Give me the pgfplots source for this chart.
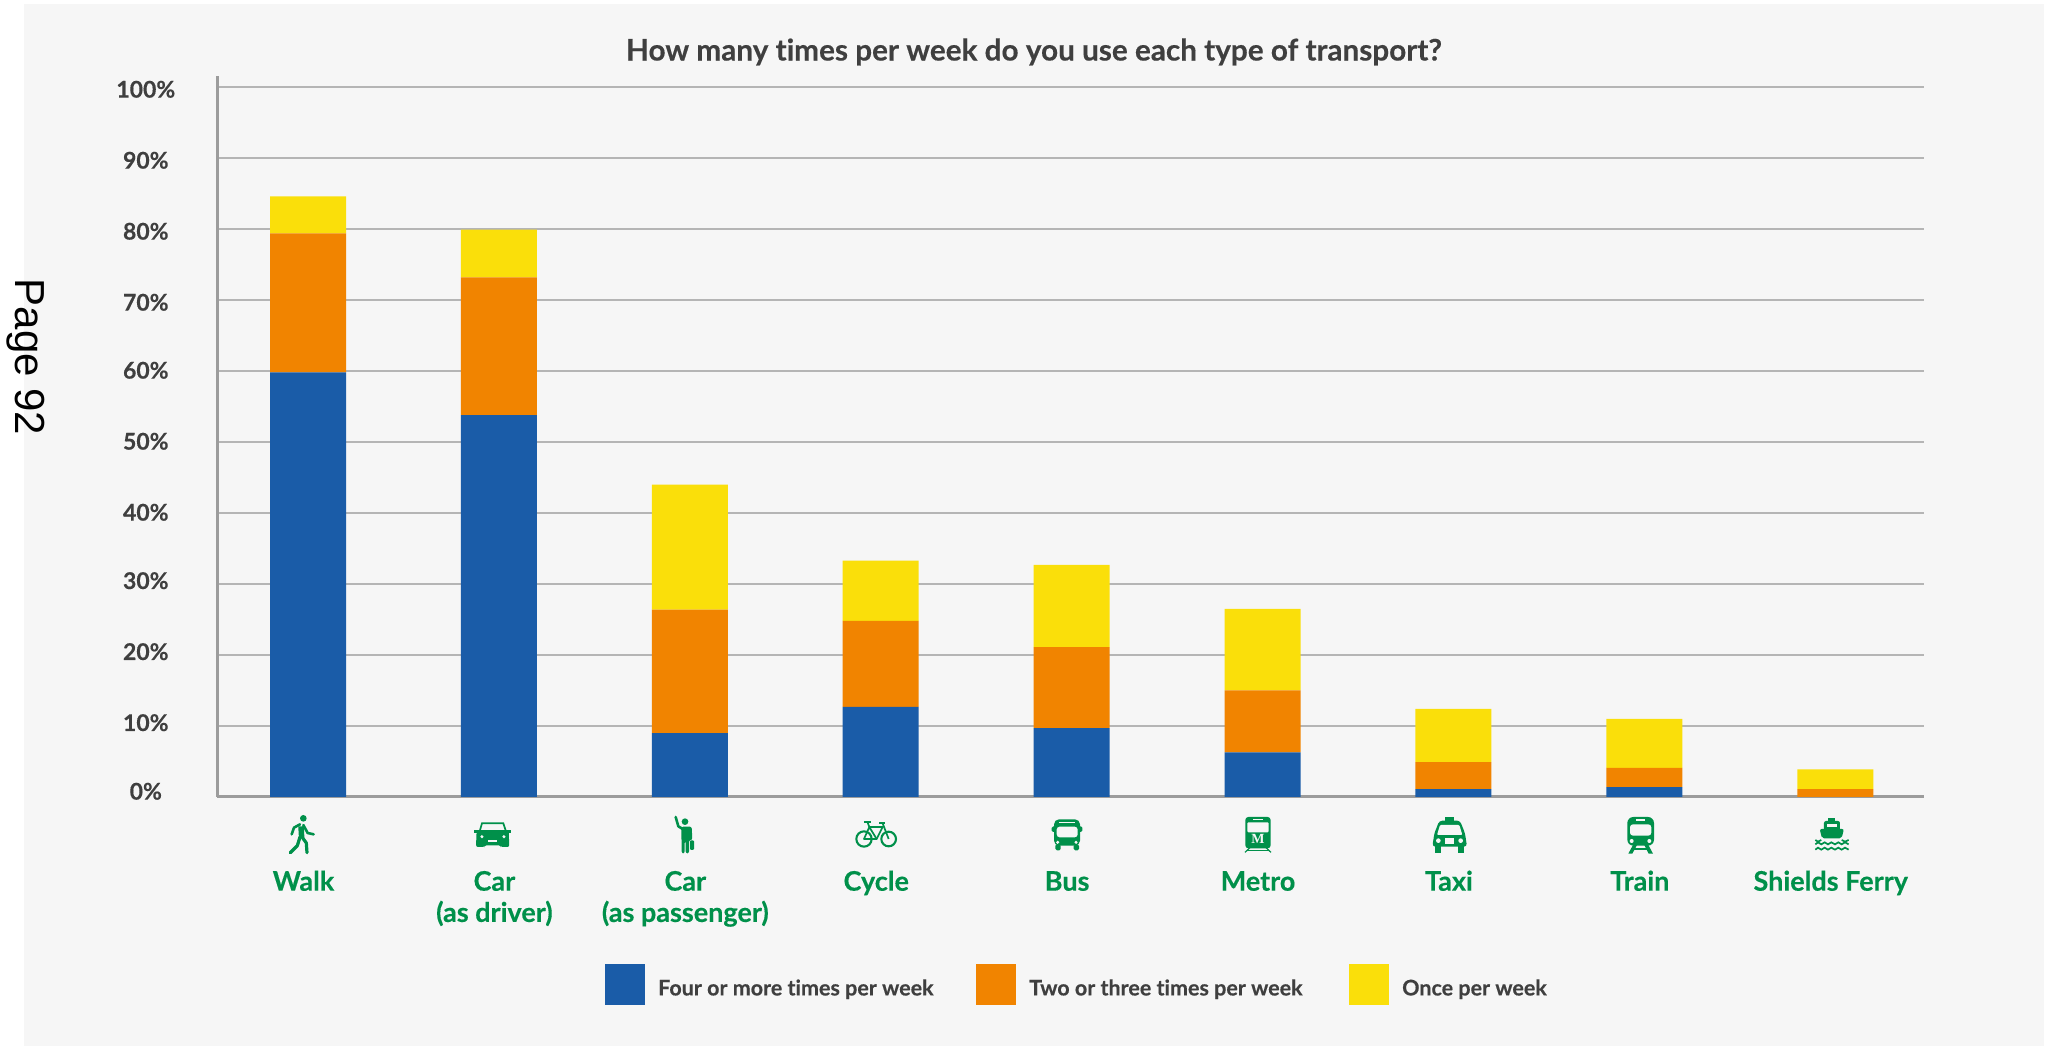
\documentclass[border=0pt]{standalone}
\usepackage{fontspec}
\setmainfont{Lato}[Ligatures=CommonOff,BoldFeatures={FakeBold=0.35}]
\newfontfamily\pagefont{Liberation Sans}
\newfontfamily\mfont{Liberation Serif}
\usepackage{pgfplots}
\pgfplotsset{compat=1.18}
\definecolor{panel}{HTML}{F6F6F6}
\definecolor{cblue}{HTML}{1A5CA8}
\definecolor{corange}{HTML}{F18400}
\definecolor{cyellow}{HTML}{FADF0A}
\definecolor{cgreen}{HTML}{00904A}
\definecolor{ctext}{HTML}{3F3F3F}
\definecolor{cgrid}{HTML}{B5B5B5}
\definecolor{caxis}{HTML}{9C9C9C}
\newcommand{\yl}[2]{\raisebox{#1}[23pt][0pt]{#2}}
\begin{document}
\begin{tikzpicture}[x=1pt,y=1pt]
\path[use as bounding box] (0,0) rectangle (2049,1046);
\fill[panel] (24,0) rectangle (2044,1042);
\begin{axis}[
  at={(217pt,249pt)}, anchor=south west,
  scale only axis, width=1706.5pt, height=721pt,
  xmin=-0.4767, xmax=8.4625, ymin=0, ymax=101.55,
  ybar stacked, bar width=76pt,
  axis lines=left, axis line style={-, draw=caxis, line width=3pt},
  major tick length=0pt,
  ymajorgrids, grid style={draw=cgrid, line width=1.6pt},
  ytick={0,10,...,100},
  yticklabels={\yl{5pt}{0\%},\yl{2.6pt}{10\%},\yl{2.6pt}{20\%},\yl{2.6pt}{30\%},\yl{0pt}{40\%},\yl{0pt}{50\%},\yl{0pt}{60\%},\yl{-3pt}{70\%},\yl{-3pt}{80\%},\yl{-3pt}{90\%},\yl{-3pt}{100\%}},
  yticklabel style={font=\fontsize{23}{26}\selectfont\bfseries, text=ctext, text width=70pt, align=center, anchor=east, inner sep=0pt},
  ytick pos=left, xtick pos=bottom,
  ylabel={}, 
  typeset ticklabels with strut=false,
  yticklabel shift=36pt,
  xtick={0,...,8},
  xticklabels={Walk,{Car\\(as driver)},{Car\\(as passenger)},Cycle,Bus,Metro,Taxi,Train,Shields Ferry},
  xticklabel style={font=\fontsize{27}{30}\selectfont\bfseries, text=cgreen, align=center, anchor=north, inner sep=0pt, xshift=-4.5pt},
  xticklabel shift=72.5pt,
  title={\fontsize{29.7}{32}\selectfont\bfseries\textcolor{ctext}{How many times per week do you use each type of transport?}},
  title style={at={(0.4787,1.025)}, anchor=center, inner sep=0pt},
  legend columns=3,
  legend style={at={(0.22736,-0.2316)}, anchor=north west, draw=none, fill=none, inner sep=0pt, font=\fontsize{21.5}{24}\selectfont\bfseries, text=ctext, nodes={inner sep=0pt}, /tikz/every even column/.append style={column sep=13pt}},
  legend image code/.code={\fill[#1] (0,-17pt) rectangle (40pt,24pt);},
]
\addplot[fill=cblue, draw=none] coordinates {(0,59.8)(1,53.8)(2,9.0)(3,12.7)(4,9.7)(5,6.3)(6,1.1)(7,1.4)(8,0)};
\addlegendentry{\makebox[318pt][l]{\hspace{13pt}Four or more times per week}}
\addplot[fill=corange, draw=none] coordinates {(0,19.6)(1,19.4)(2,17.4)(3,12.1)(4,11.4)(5,8.7)(6,3.8)(7,2.7)(8,1.1)};
\addlegendentry{\makebox[320pt][l]{\hspace{13pt}Two or three times per week}}
\addplot[fill=cyellow, draw=none] coordinates {(0,5.2)(1,6.7)(2,17.6)(3,8.5)(4,11.6)(5,11.5)(6,7.5)(7,6.9)(8,2.8)};
\addlegendentry{\makebox[180pt][l]{\hspace{13pt}Once per week}}
\end{axis}
\node[rotate=-90, font=\fontsize{42}{46}\selectfont\pagefont, text=black, inner sep=0pt] at (26,689) {Page 92};
% ---- pictograms (zoom-pixel coordinates) ----
\begin{scope}[shift={(270pt,241pt)},x=0.3333pt,y=-0.3333pt,cgreen]
 % walk
 \fill (100,40) circle[radius=10];
 \draw[line width=5.5pt,line join=round] (93,64)--(95,98);
 \draw[line width=2.6pt,line cap=round,line join=round] (90,58)--(72,68)--(65,88);
 \draw[line width=2.6pt,line cap=round,line join=round] (100,60)--(113,84)--(131,88);
 \draw[line width=3.2pt,line cap=round,line join=round] (90,96)--(82,122)--(61,143);
 \draw[line width=3.2pt,line cap=round,line join=round] (96,96)--(109,114)--(111,143);
 % car
 \fill[rounded corners=2pt] (620,76)--(716,76)--(718,126)--(692,126)--(692,121)--(644,121)--(644,126)--(618,126)--cycle;
 \fill (612,76) rectangle (724,83);
 \draw[line width=1.7pt] (630,76)--(636,55)--(700,55)--(707,76);
 \fill[panel] (636,95) circle[radius=5];
 \fill[panel] (702,95) circle[radius=5];
 \fill[panel] (655,105) rectangle (682,110);
\end{scope}
\begin{scope}[shift={(660pt,241pt)},x=0.3333pt,y=-0.3333pt,cgreen]
 % car passenger
 \fill (75,50) circle[radius=10];
 \draw[line width=2.6pt,line cap=round,line join=round] (47,36)--(55,64)--(68,72);
 \fill[rounded corners=2pt] (64,65)--(95,65)--(97,105)--(87,105)--(87,145)--(77,145)--(77,108)--(74,108)--(74,145)--(65,145)--cycle;
 \fill[rounded corners=1pt] (90,106) rectangle (102,135);
 % cycle
 \draw[line width=2.1pt] (612,102) circle[radius=23];
 \draw[line width=2.1pt] (686,102) circle[radius=22];
 \draw[line width=1.7pt,line join=round] (612,102)--(628,66)--(650,102)--cycle;
 \draw[line width=1.7pt,line join=round] (628,66)--(668,66)--(650,102);
 \draw[line width=1.7pt,line join=round] (622,50)--(628,66);
 \draw[line width=1.7pt] (668,55)--(686,102);
 \draw[line width=2pt] (612,51)--(632,51);
 \draw[line width=2pt] (658,55)--(676,55);
\end{scope}
\begin{scope}[shift={(1040pt,241pt)},x=0.3333pt,y=-0.3333pt,cgreen]
 % bus
 \fill[rounded corners=5pt] (42,43) rectangle (120,122);
 \fill[rounded corners=1.5pt] (35,64) rectangle (127,81);
 \fill[panel] (58,50) rectangle (105,55);
 \fill[panel,rounded corners=3pt] (50,65) rectangle (113,97);
 \fill[panel] (53,112) circle[radius=5];
 \fill[panel] (108,112) circle[radius=5];
 \fill[rounded corners=1.5pt] (46,118) rectangle (62,136);
 \fill[rounded corners=1.5pt] (101,118) rectangle (117,136);
 % metro
 \fill[rounded corners=3pt] (616,36) rectangle (692,130);
 \fill[panel] (638,42) rectangle (670,46);
 \fill[panel,rounded corners=1pt] (622,52) rectangle (686,82);
 \node[text=panel,font=\fontsize{14}{14}\selectfont\mfont\bfseries,inner sep=0pt] at (654,103) {M};
 \draw[line width=1.2pt] (630,128)--(615,142);
 \draw[line width=1.2pt] (678,128)--(693,142);
 \draw[line width=1pt] (622,136)--(686,136);
\end{scope}
\begin{scope}[shift={(1420pt,241pt)},x=0.3333pt,y=-0.3333pt,cgreen]
 % taxi
 \fill (74,37) rectangle (103,49);
 \fill[rounded corners=3pt] (58,47)--(120,47)--(135,85)--(141,125)--(37,125)--(43,85)--cycle;
 \fill[panel,rounded corners=1pt] (60,60)--(118,60)--(127,90)--(51,90)--cycle;
 \fill[panel] (55,107) circle[radius=7];
 \fill[panel] (122,107) circle[radius=7];
 \fill[panel] (75,100) rectangle (103,116);
 \fill (46,123) rectangle (63,143);
 \fill (115,123) rectangle (132,143);
 % train
 \fill[rounded corners=6pt] (622,36) rectangle (702,122);
 \fill[panel] (648,43) rectangle (676,49);
 \fill[panel,rounded corners=3pt] (630,58) rectangle (694,92);
 \fill[panel] (635,108) circle[radius=6];
 \fill[panel] (688,108) circle[radius=6];
 \fill (640,118)--(652,118)--(637,146)--(625,146)--cycle;
 \fill (672,118)--(684,118)--(699,146)--(686,146)--cycle;
 \fill (640,130) rectangle (684,134);
 % ferry
 \fill (1225,38) rectangle (1245,50);
 \fill[rounded corners=2pt] (1212,48) rectangle (1260,78);
 \fill[panel] (1221,57) rectangle (1250,67);
 \fill[rounded corners=2pt] (1199,72)--(1272,72)--(1265,100)--(1206,100)--cycle;
 \draw[line width=1.7pt] (1186,118)--(1194,112)--(1204,118)--(1214,112)--(1224,118)--(1234,112)--(1245,118)--(1255,112)--(1265,118)--(1275,112)--(1286,118);
 \draw[line width=1.7pt] (1186,105)--(1194,110)--(1204,105) (1265,105)--(1275,110)--(1286,105);
 \draw[line width=1.7pt] (1186,134)--(1194,128)--(1204,134)--(1214,128)--(1224,134)--(1234,128)--(1245,134)--(1255,128)--(1265,134)--(1275,128)--(1286,134);
\end{scope}
\end{tikzpicture}
\end{document}
